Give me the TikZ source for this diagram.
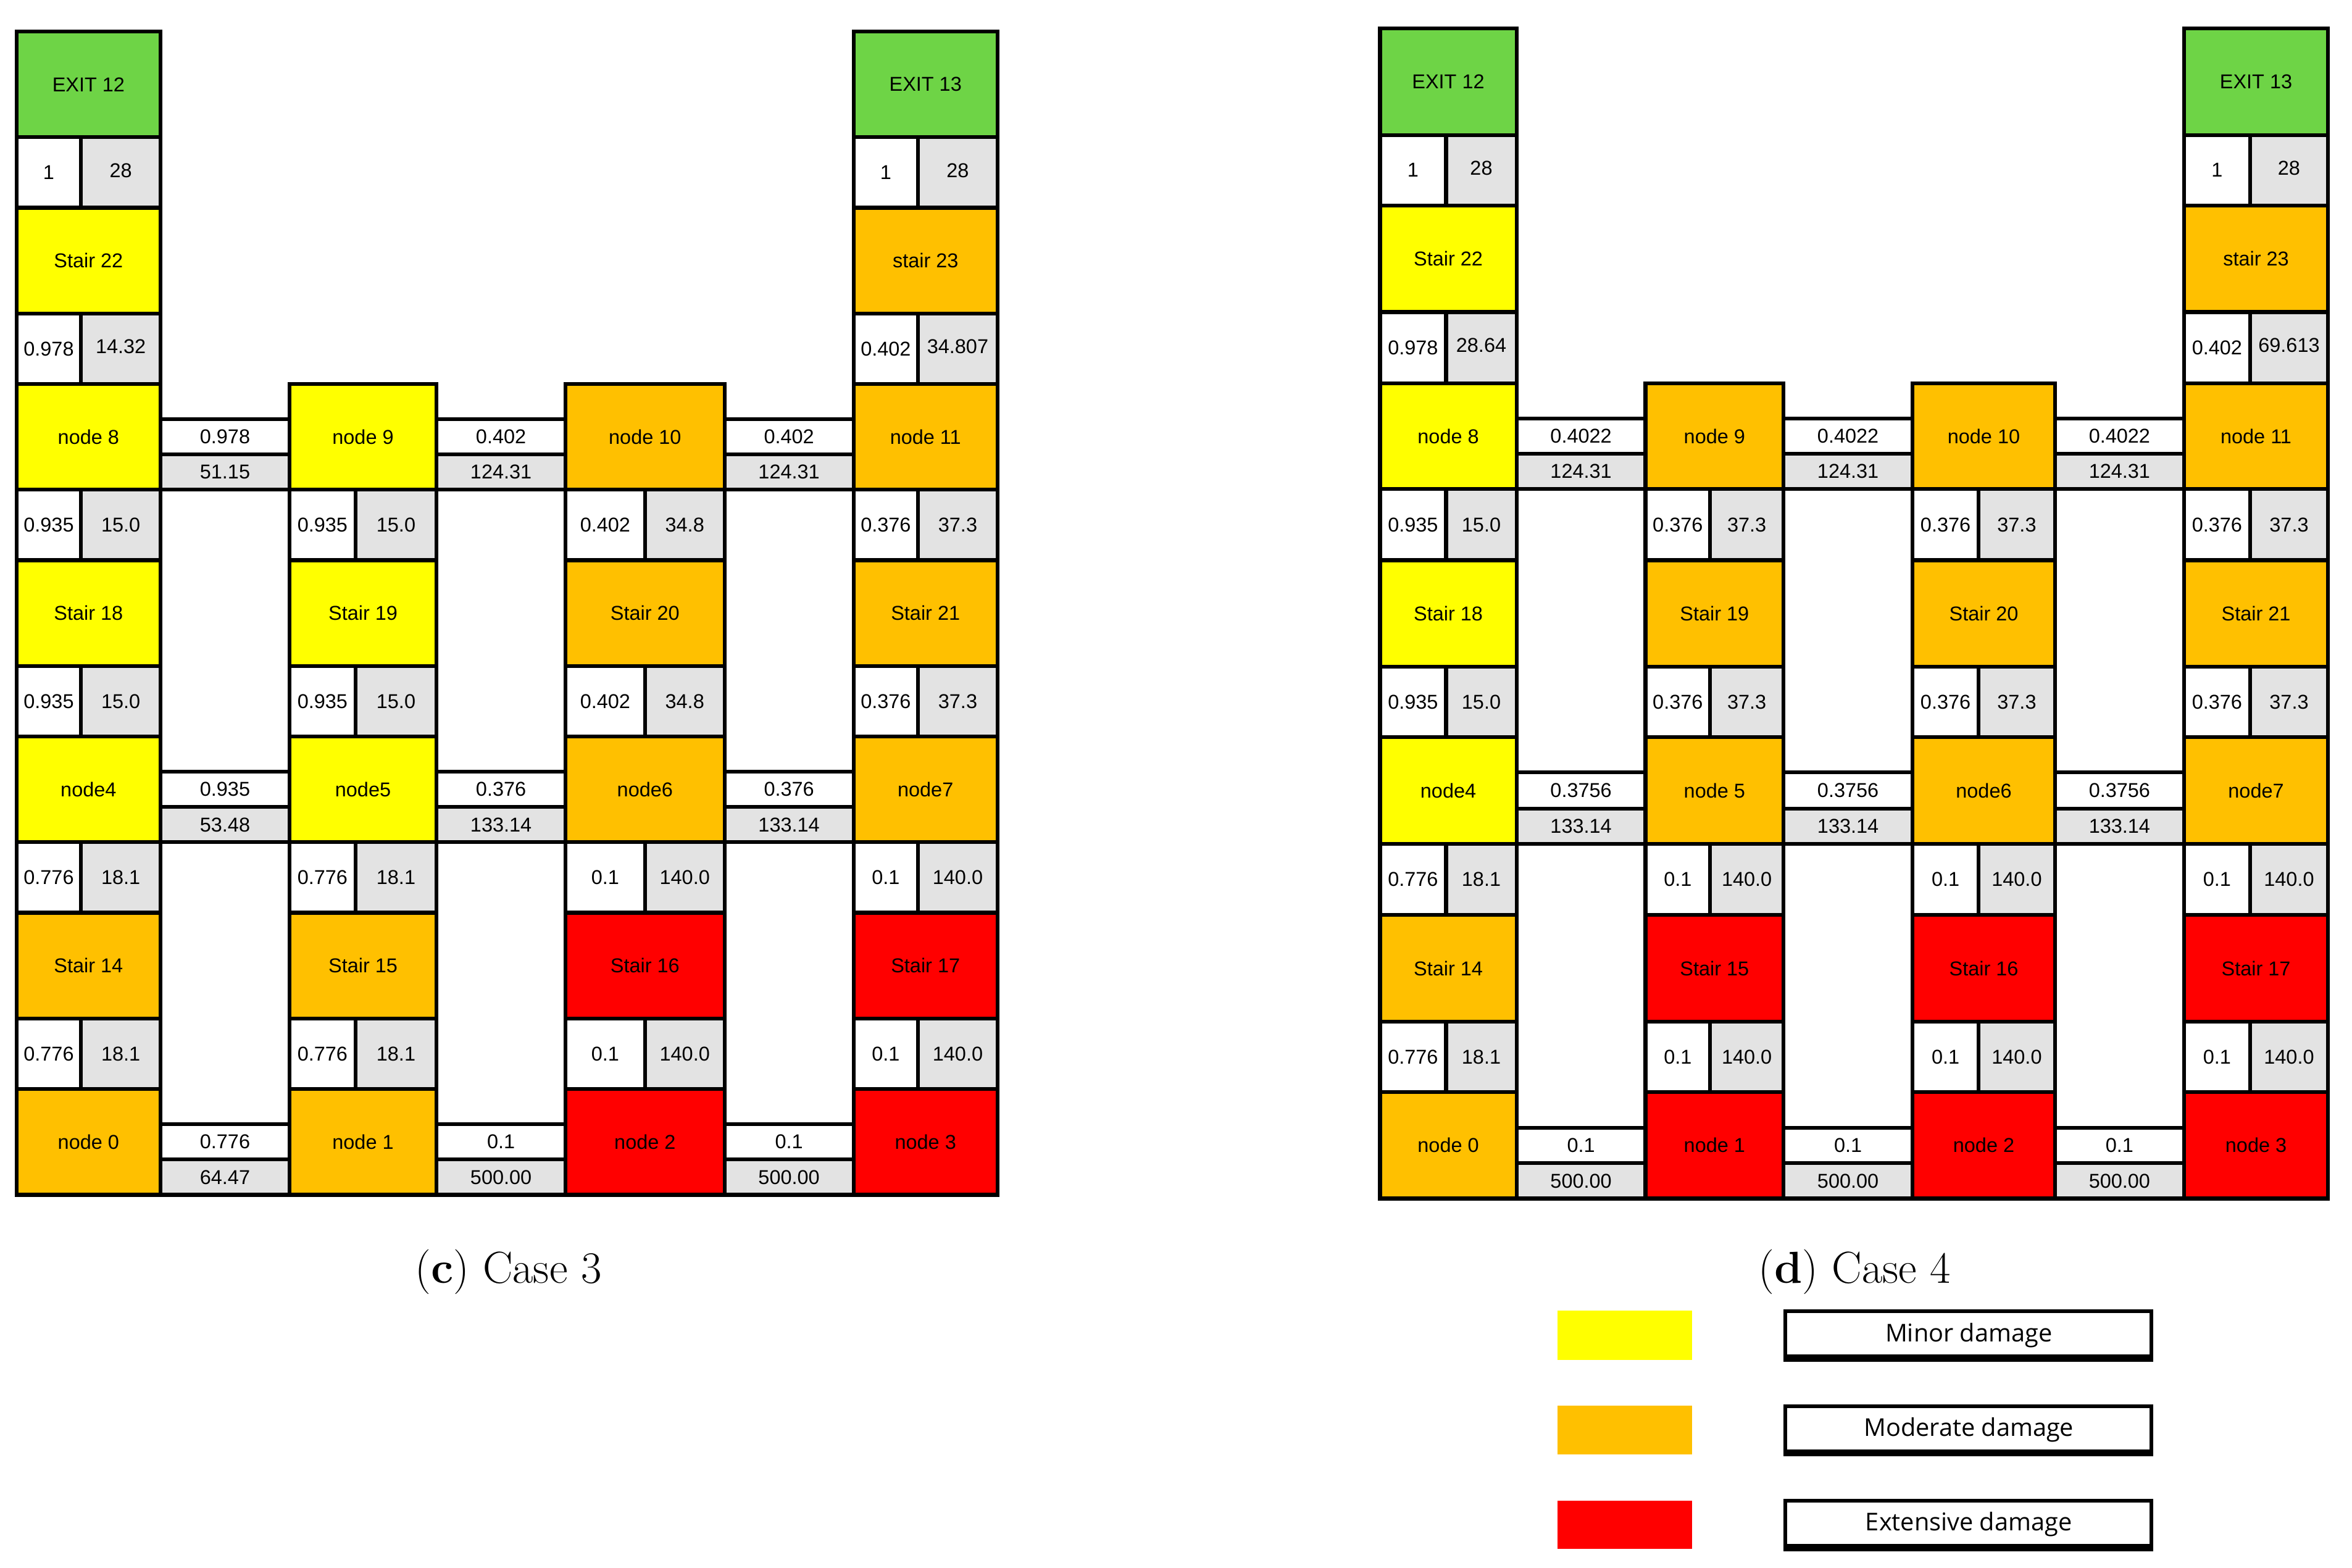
\documentclass[tikz,border=0pt]{standalone}
\usepackage{fontspec}
\usepackage{tikz}
\newfontfamily\cellfont{Liberation Sans}
\newfontfamily\keyfont{Open Sans}
\definecolor{exitgreen}{RGB}{110,212,70}
\definecolor{minoryellow}{RGB}{255,255,0}
\definecolor{modorange}{RGB}{255,192,0}
\definecolor{extred}{RGB}{255,0,0}
\definecolor{cellgray}{RGB}{227,227,227}
\tikzset{
	gridline/.style={line width=1.45pt, draw=black},
	celltext/.style={font=\cellfont\fontsize{7.6}{9}\selectfont, inner sep=0pt},
	captext/.style={font=\fontsize{17}{20}\selectfont, anchor=base, inner sep=0pt},
	keybox/.style={line width=1.4pt, draw=black, fill=white},
	keytext/.style={font=\keyfont\fontsize{9.3}{11}\selectfont, anchor=base, inner sep=0pt}
}
\def\up#1{\raisebox{1.7pt}{#1}}
\def\roombox[#1](#2,#3)(#4,#5)#6#7{\draw[gridline,fill=#1] (#2,#3) rectangle (#4,#5);
	\node[celltext] (#6) at ({(#2+#4)/2},{(#3+#5)/2}) {#7};}
\def\datarow(#1,#2,#3)(#4,#5)#6#7#8{\draw[gridline,fill=white] (#1,#4) rectangle (#2,#5);
	\draw[gridline,fill=cellgray] (#2,#4) rectangle (#3,#5);
	\node[celltext] (#6l) at ({(#1+#2)/2},{(#4+#5)/2}) {#7};
	\node[celltext] (#6r) at ({(#2+#3)/2},{(#4+#5)/2}) {#8};}
\def\linkbox(#1,#2)(#3,#4,#5)#6#7#8{\draw[gridline,fill=white] (#1,#3) rectangle (#2,#4);
	\draw[gridline,fill=cellgray] (#1,#4) rectangle (#2,#5);
	\node[celltext] (#6t) at ({(#1+#2)/2},{(#3+#4)/2}) {#7};
	\node[celltext] (#6b) at ({(#1+#2)/2},{(#4+#5)/2}) {#8};}

\begin{document}
\begin{tikzpicture}[x=0.02cm, y=-0.02cm]
			%%%%% START %%%%%
			\useasboundingbox (0,0) rectangle (1568,1045);
			
			%% (c) Case 3
			\roombox[exitgreen](11,21)(107,91.5){cA1}{EXIT 12}
			\datarow(11,54,107)(91.5,138.5){cA2}{1}{\up{28}}
			\roombox[minoryellow](11,138.5)(107,209){cA3}{Stair 22}
			\datarow(11,54,107)(209,256){cA4}{0.978}{\up{14.32}}
			\roombox[minoryellow](11,256)(107,326.5){cA5}{node 8}
			\datarow(11,54,107)(326.5,373.5){cA6}{0.935}{15.0}
			\roombox[minoryellow](11,373.5)(107,444){cA7}{Stair 18}
			\datarow(11,54,107)(444,491){cA8}{0.935}{15.0}
			\roombox[minoryellow](11,491)(107,561.5){cA9}{node4}
			\datarow(11,54,107)(561.5,608.5){cA10}{0.776}{18.1}
			\roombox[modorange](11,608.5)(107,679){cA11}{Stair 14}
			\datarow(11,54,107)(679,726){cA12}{0.776}{18.1}
			\roombox[modorange](11,726)(107,796.5){cA13}{node 0}
			
			\roombox[minoryellow](193,256)(291,326.5){cB5}{node 9}
			\datarow(193,237,291)(326.5,373.5){cB6}{0.935}{15.0}
			\roombox[minoryellow](193,373.5)(291,444){cB7}{Stair 19}
			\datarow(193,237,291)(444,491){cB8}{0.935}{15.0}
			\roombox[minoryellow](193,491)(291,561.5){cB9}{node5}
			\datarow(193,237,291)(561.5,608.5){cB10}{0.776}{18.1}
			\roombox[modorange](193,608.5)(291,679){cB11}{Stair 15}
			\datarow(193,237,291)(679,726){cB12}{0.776}{18.1}
			\roombox[modorange](193,726)(291,796.5){cB13}{node 1}
			
			\roombox[modorange](377,256)(483,326.5){cC5}{node 10}
			\datarow(377,430,483)(326.5,373.5){cC6}{0.402}{34.8}
			\roombox[modorange](377,373.5)(483,444){cC7}{Stair 20}
			\datarow(377,430,483)(444,491){cC8}{0.402}{34.8}
			\roombox[modorange](377,491)(483,561.5){cC9}{node6}
			\datarow(377,430,483)(561.5,608.5){cC10}{0.1}{140.0}
			\roombox[extred](377,608.5)(483,679){cC11}{Stair 16}
			\datarow(377,430,483)(679,726){cC12}{0.1}{140.0}
			\roombox[extred](377,726)(483,796.5){cC13}{node 2}
			
			\roombox[exitgreen](569,21)(665,91.5){cD1}{EXIT 13}
			\datarow(569,612,665)(91.5,138.5){cD2}{1}{\up{28}}
			\roombox[modorange](569,138.5)(665,209){cD3}{stair 23}
			\datarow(569,612,665)(209,256){cD4}{0.402}{\up{34.807}}
			\roombox[modorange](569,256)(665,326.5){cD5}{node 11}
			\datarow(569,612,665)(326.5,373.5){cD6}{0.376}{37.3}
			\roombox[modorange](569,373.5)(665,444){cD7}{Stair 21}
			\datarow(569,612,665)(444,491){cD8}{0.376}{37.3}
			\roombox[modorange](569,491)(665,561.5){cD9}{node7}
			\datarow(569,612,665)(561.5,608.5){cD10}{0.1}{140.0}
			\roombox[extred](569,608.5)(665,679){cD11}{Stair 17}
			\datarow(569,612,665)(679,726){cD12}{0.1}{140.0}
			\roombox[extred](569,726)(665,796.5){cD13}{node 3}
			
			\linkbox(107,193)(279.5,303,326.5){cAB1}{0.978}{51.15}
			\linkbox(291,377)(279.5,303,326.5){cBC1}{0.402}{124.31}
			\linkbox(483,569)(279.5,303,326.5){cCD1}{0.402}{124.31}
			\linkbox(107,193)(514.5,538,561.5){cAB2}{0.935}{53.48}
			\linkbox(291,377)(514.5,538,561.5){cBC2}{0.376}{133.14}
			\linkbox(483,569)(514.5,538,561.5){cCD2}{0.376}{133.14}
			\linkbox(107,193)(749.5,773,796.5){cAB3}{0.776}{64.47}
			\linkbox(291,377)(749.5,773,796.5){cBC3}{0.1}{500.00}
			\linkbox(483,569)(749.5,773,796.5){cCD3}{0.1}{500.00}
			
			\node[captext] (capc) at (339,855.5) {(\textbf{c}) Case 3};
			
			%% (d) Case 4
			\roombox[exitgreen](920,19)(1011,90){dA1}{EXIT 12}
			\datarow(920,964,1011)(90,137){dA2}{1}{\up{28}}
			\roombox[minoryellow](920,137)(1011,208){dA3}{Stair 22}
			\datarow(920,964,1011)(208,255.5){dA4}{0.978}{\up{28.64}}
			\roombox[minoryellow](920,255.5)(1011,326){dA5}{node 8}
			\datarow(920,964,1011)(326,373.5){dA6}{0.935}{15.0}
			\roombox[minoryellow](920,373.5)(1011,444.5){dA7}{Stair 18}
			\datarow(920,964,1011)(444.5,491.5){dA8}{0.935}{15.0}
			\roombox[minoryellow](920,491.5)(1011,562.5){dA9}{node4}
			\datarow(920,964,1011)(562.5,610){dA10}{0.776}{18.1}
			\roombox[modorange](920,610)(1011,681){dA11}{Stair 14}
			\datarow(920,964,1011)(681,728){dA12}{0.776}{18.1}
			\roombox[modorange](920,728)(1011,799){dA13}{node 0}
			
			\roombox[modorange](1097,255.5)(1189,326){dB5}{node 9}
			\datarow(1097,1140,1189)(326,373.5){dB6}{0.376}{37.3}
			\roombox[modorange](1097,373.5)(1189,444.5){dB7}{Stair 19}
			\datarow(1097,1140,1189)(444.5,491.5){dB8}{0.376}{37.3}
			\roombox[modorange](1097,491.5)(1189,562.5){dB9}{node 5}
			\datarow(1097,1140,1189)(562.5,610){dB10}{0.1}{140.0}
			\roombox[extred](1097,610)(1189,681){dB11}{Stair 15}
			\datarow(1097,1140,1189)(681,728){dB12}{0.1}{140.0}
			\roombox[extred](1097,728)(1189,799){dB13}{node 1}
			
			\roombox[modorange](1275,255.5)(1370,326){dC5}{node 10}
			\datarow(1275,1319,1370)(326,373.5){dC6}{0.376}{37.3}
			\roombox[modorange](1275,373.5)(1370,444.5){dC7}{Stair 20}
			\datarow(1275,1319,1370)(444.5,491.5){dC8}{0.376}{37.3}
			\roombox[modorange](1275,491.5)(1370,562.5){dC9}{node6}
			\datarow(1275,1319,1370)(562.5,610){dC10}{0.1}{140.0}
			\roombox[extred](1275,610)(1370,681){dC11}{Stair 16}
			\datarow(1275,1319,1370)(681,728){dC12}{0.1}{140.0}
			\roombox[extred](1275,728)(1370,799){dC13}{node 2}
			
			\roombox[exitgreen](1456,19)(1552,90){dD1}{EXIT 13}
			\datarow(1456,1500,1552)(90,137){dD2}{1}{\up{28}}
			\roombox[modorange](1456,137)(1552,208){dD3}{stair 23}
			\datarow(1456,1500,1552)(208,255.5){dD4}{0.402}{\up{69.613}}
			\roombox[modorange](1456,255.5)(1552,326){dD5}{node 11}
			\datarow(1456,1500,1552)(326,373.5){dD6}{0.376}{37.3}
			\roombox[modorange](1456,373.5)(1552,444.5){dD7}{Stair 21}
			\datarow(1456,1500,1552)(444.5,491.5){dD8}{0.376}{37.3}
			\roombox[modorange](1456,491.5)(1552,562.5){dD9}{node7}
			\datarow(1456,1500,1552)(562.5,610){dD10}{0.1}{140.0}
			\roombox[extred](1456,610)(1552,681){dD11}{Stair 17}
			\datarow(1456,1500,1552)(681,728){dD12}{0.1}{140.0}
			\roombox[extred](1456,728)(1552,799){dD13}{node 3}
			
			\linkbox(1011,1097)(279,302.5,326){dAB1}{0.4022}{124.31}
			\linkbox(1189,1275)(279,302.5,326){dBC1}{0.4022}{124.31}
			\linkbox(1370,1456)(279,302.5,326){dCD1}{0.4022}{124.31}
			\linkbox(1011,1097)(515,539,562.5){dAB2}{0.3756}{133.14}
			\linkbox(1189,1275)(515,539,562.5){dBC2}{0.3756}{133.14}
			\linkbox(1370,1456)(515,539,562.5){dCD2}{0.3756}{133.14}
			\linkbox(1011,1097)(752,775.5,799){dAB3}{0.1}{500.00}
			\linkbox(1189,1275)(752,775.5,799){dBC3}{0.1}{500.00}
			\linkbox(1370,1456)(752,775.5,799){dCD3}{0.1}{500.00}
			
			\node[captext] (capd) at (1236.5,855.5) {(\textbf{d}) Case 4};
			
			%% legend
			\fill[minoryellow] (1038.5,873.7) rectangle (1128,906.8);
			\fill[modorange] (1038.5,937.1) rectangle (1128,969.6);
			\fill[extred] (1038.5,1000.4) rectangle (1128,1032.4);
			
			\draw[keybox] (1190.3,874.2) rectangle (1434.1,905.4);
			\fill (1189.1,903.1) rectangle (1435.3,907.7);
			\node[keytext] (keyminor) at (1312.5,894.3) {Minor damage};
			
			\draw[keybox] (1190.3,937.3) rectangle (1434.1,968.6);
			\fill (1189.1,966.3) rectangle (1435.3,970.9);
			\node[keytext] (keymoderate) at (1312.5,957.4) {Moderate damage};
			
			\draw[keybox] (1190.3,1000.4) rectangle (1434.1,1031.7);
			\fill (1189.1,1029.4) rectangle (1435.3,1034);
			\node[keytext] (keyextensive) at (1312.5,1020.5) {Extensive damage};
			
			%%%%% END %%%%%
		\end{tikzpicture}
\end{document}
